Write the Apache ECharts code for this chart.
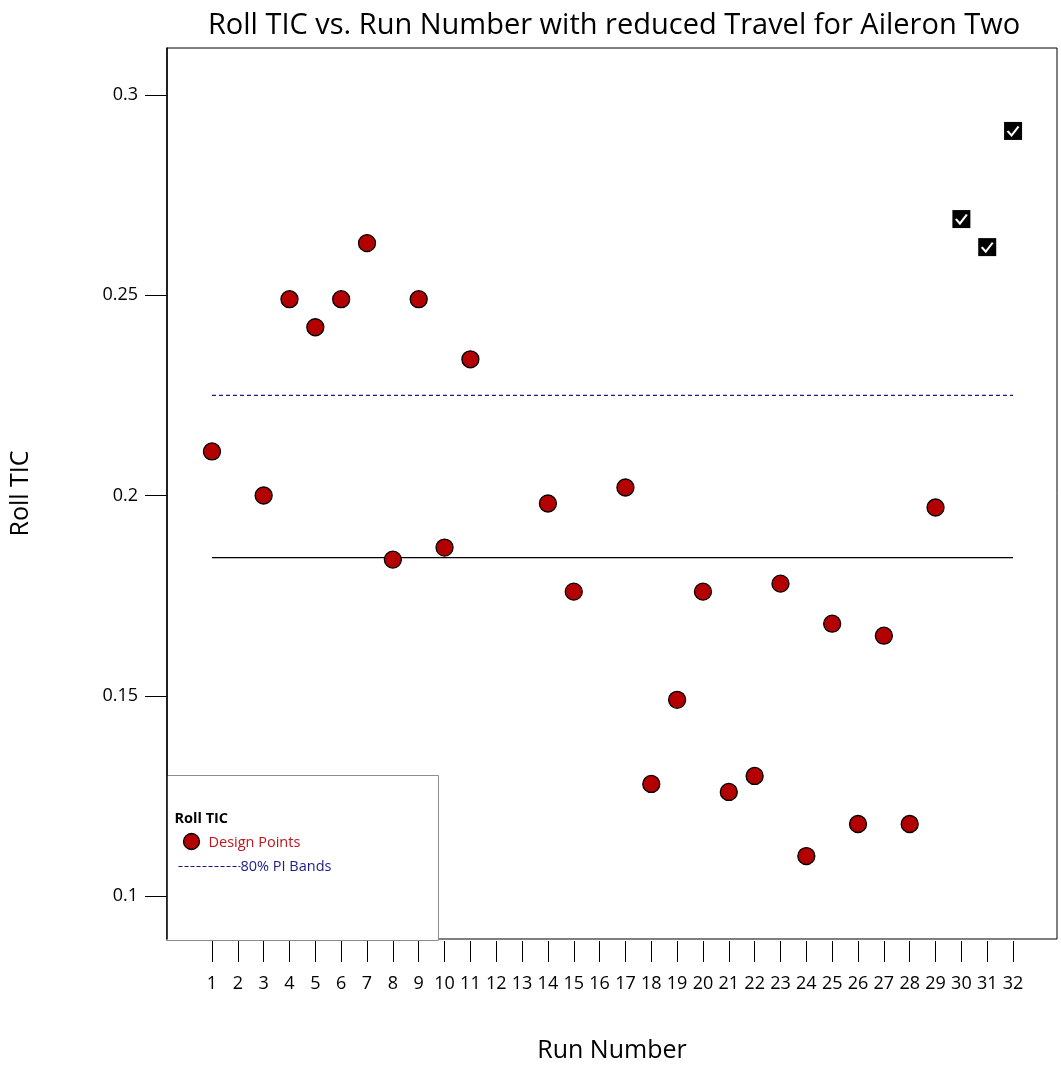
<!DOCTYPE html>
<html>
<head>
<meta charset="utf-8">
<script src="https://cdn.jsdelivr.net/npm/echarts@6/dist/echarts.min.js"></script>
<style>
  html, body { margin: 0; padding: 0; background: #fff; }
  #chart { width: 1061px; height: 1068px; }
</style>
</head>
<body>
<div id="chart"></div>
<script>
// Run numbers shown on the x axis
const runTicks = Array.from({ length: 32 }, (_, i) => i + 1);
// Roll TIC tick values on the y axis
const rollTicks = [0.1, 0.15, 0.2, 0.25, 0.3];

// Design points (run number, Roll TIC)
const designRuns = [1, 3, 4, 5, 6, 7, 8, 9, 10, 11, 14, 15, 17, 18, 19, 20, 21, 22, 23, 24, 25, 26, 27, 28, 29];
const designValues = [0.211, 0.200, 0.249, 0.242, 0.249, 0.263, 0.184, 0.249, 0.187, 0.234, 0.198, 0.176, 0.202,
  0.128, 0.149, 0.176, 0.126, 0.130, 0.178, 0.110, 0.168, 0.118, 0.165, 0.118, 0.197];

// Confirmation runs (checked points)
const checkRuns = [30, 31, 32];
const checkValues = [0.269, 0.262, 0.291];

// Mean response and upper 80% prediction band
const meanValue = 0.1845;
const upperBand = 0.225;
const bandRuns = [1, 32];

const FONT = '"Open Sans", "Noto Sans", sans-serif';

const designData = designRuns.map((r, i) => [r, designValues[i]]);
const checkData = checkRuns.map((r, i) => [r, checkValues[i]]);
const meanData = bandRuns.map(r => [r, meanValue]);
const upperData = bandRuns.map(r => [r, upperBand]);

const chart = echarts.init(document.getElementById('chart'), null, { renderer: 'canvas' });

const gridLeft = 166, gridTop = 48, gridW = 891, gridH = 892;

chart.setOption({
  animation: false,
  backgroundColor: '#fff',
  title: {
    text: 'Roll TIC vs. Run Number with reduced Travel for Aileron Two',
    left: 609,
    top: 6,
    textAlign: 'center',
    textStyle: { fontFamily: FONT, fontSize: 29, fontWeight: 'normal', color: '#000' }
  },
  grid: {
    left: gridLeft, top: gridTop, width: gridW, height: gridH,
    show: true, borderColor: '#000', borderWidth: 1, backgroundColor: 'transparent'
  },
  xAxis: {
    type: 'value',
    min: -0.74,
    max: 33.7,
    offset: 2,
    name: 'Run Number',
    nameLocation: 'middle',
    nameGap: 97,
    nameTextStyle: { fontFamily: FONT, fontSize: 25, color: '#000' },
    splitLine: { show: false },
    axisLine: { show: false, onZero: false },
    axisTick: { show: true, inside: false, length: 21, lineStyle: { color: '#000', width: 1 }, customValues: runTicks },
    axisLabel: { fontFamily: FONT, fontSize: 18, color: '#000', margin: 34, customValues: runTicks }
  },
  yAxis: {
    type: 'value',
    min: 0.0893,
    max: 0.3117,
    name: 'Roll TIC',
    nameLocation: 'middle',
    nameGap: 134,
    nameTextStyle: { fontFamily: FONT, fontSize: 25, color: '#000' },
    splitLine: { show: false },
    axisLine: { show: true, onZero: false, lineStyle: { color: '#000', width: 1.5 } },
    axisTick: { show: true, inside: false, length: 22, lineStyle: { color: '#000', width: 1 }, customValues: rollTicks },
    axisLabel: { fontFamily: FONT, fontSize: 18, color: '#000', margin: 29, customValues: rollTicks,
      formatter: v => String(+v.toFixed(2)) }
  },
  series: [
    {
      name: 'Mean',
      type: 'line',
      data: meanData,
      symbol: 'none',
      lineStyle: { color: '#000', width: 1.2 },
      z: 2
    },
    {
      name: '80% PI Bands',
      type: 'line',
      data: upperData,
      symbol: 'none',
      lineStyle: { color: '#1a1a8c', width: 1.2, type: [4, 3] },
      z: 2
    },
    {
      name: 'Design Points',
      type: 'scatter',
      data: designData,
      symbol: 'circle',
      symbolSize: 17,
      itemStyle: { color: '#b30000', borderColor: '#000', borderWidth: 1.3, opacity: 1 },
      z: 3
    },
    {
      name: 'Checked Box',
      type: 'scatter',
      data: checkData,
      symbol: 'rect',
      symbolSize: 18,
      itemStyle: { color: '#000', opacity: 1 },
      z: 3
    },
    {
      name: 'Checked Mark',
      type: 'scatter',
      data: checkData,
      symbol: 'path://M0,5 L4,9 L11,1',
      symbolSize: [11, 9],
      itemStyle: { color: 'none', borderColor: '#fff', borderWidth: 2, opacity: 1 },
      z: 4
    }
  ],
  graphic: [
    {
      type: 'group',
      left: 166,
      top: 775,
      z: 10,
      children: [
        { type: 'rect', shape: { x: 0, y: 0, width: 272, height: 165 },
          style: { fill: '#fff', stroke: '#8c8c8c', lineWidth: 1 } },
        { type: 'text', x: 8, y: 36,
          style: { text: 'Roll TIC', font: 'bold 14.5px ' + FONT, fill: '#000' } },
        { type: 'circle', shape: { cx: 25, cy: 66, r: 8 },
          style: { fill: '#b30000', stroke: '#000', lineWidth: 1.3 } },
        { type: 'text', x: 42, y: 60,
          style: { text: 'Design Points', font: '14.5px ' + FONT, fill: '#c0141e' } },
        { type: 'line', shape: { x1: 12, y1: 91, x2: 74, y2: 91 },
          style: { stroke: '#1a1a8c', lineWidth: 1.2, lineDash: [4, 2] } },
        { type: 'text', x: 74, y: 84,
          style: { text: '80% PI Bands', font: '14.5px ' + FONT, fill: '#1a1a8c' } }
      ]
    }
  ]
});
</script>
</body>
</html>
